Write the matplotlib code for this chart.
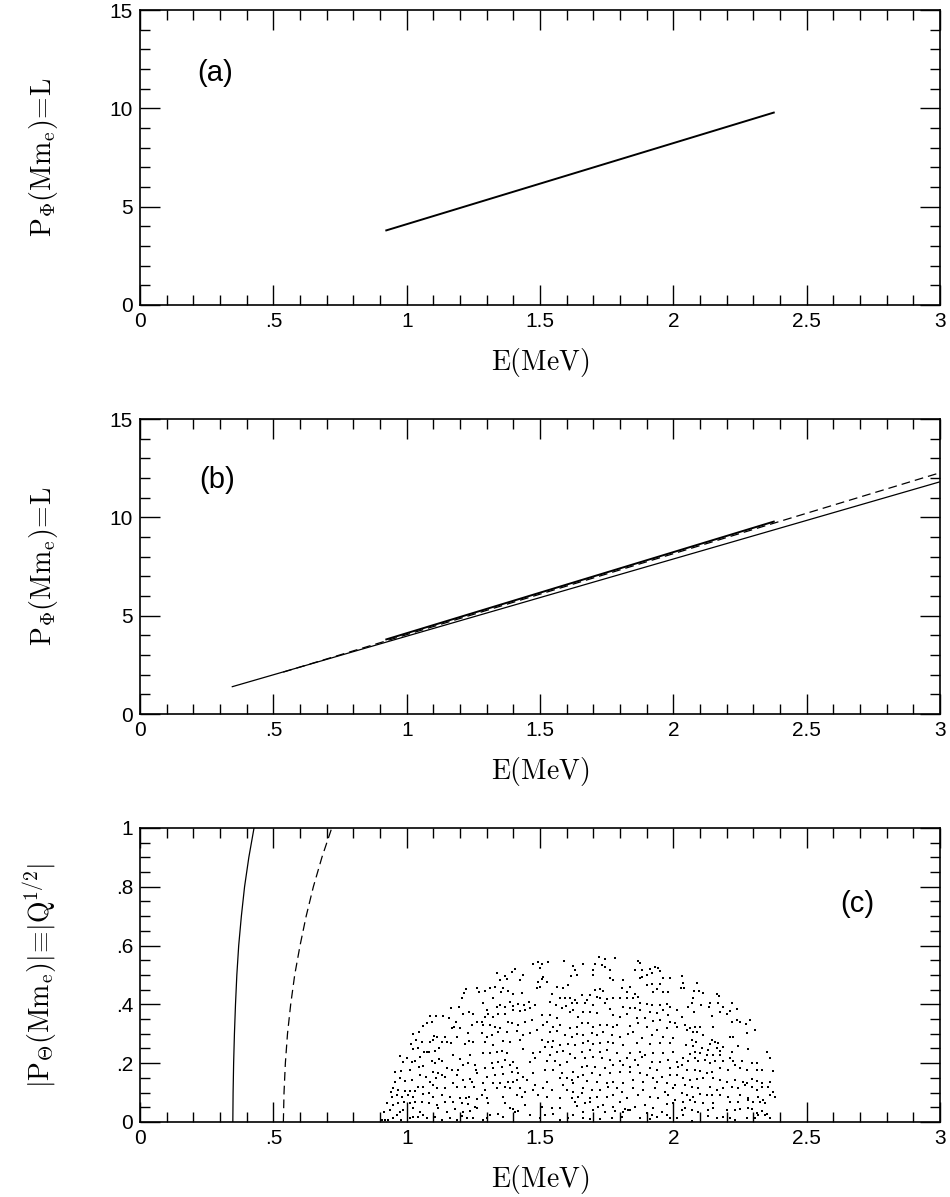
import matplotlib
matplotlib.use("Agg")
import matplotlib.pyplot as plt
from matplotlib.ticker import MultipleLocator, FuncFormatter

plt.rcParams["mathtext.fontset"] = "cm"
plt.rcParams["font.family"] = ["Liberation Sans", "DejaVu Sans"]

# panel (a)/(b): L versus E for the bound orbits
band_E = [0.92, 2.38]
band_L = [3.78, 9.80]
# panel (b): continuation curves
dash_E = [0.537, 3.0]
dash_L = [2.13, 12.27]
solid_E = [0.346, 3.0]
solid_L = [1.39, 11.81]

# panel (c): |Q^1/2| boundary curves
curve_Q = [0.0, 0.1, 0.2, 0.3, 0.4, 0.5, 0.6, 0.7, 0.8, 0.9, 1.0]
curve1_E = [0.348, 0.349, 0.351, 0.354, 0.358, 0.363, 0.370, 0.380, 0.392, 0.408, 0.4275]
curve2_E = [0.5375, 0.540, 0.545, 0.553, 0.565, 0.580, 0.600, 0.623, 0.650, 0.682, 0.719]

# panel (c): scattered orbits (E, |Q^1/2|)
cloud_points = [
    (1.263, 0.457), (1.223, 0.451), (1.216, 0.440), (1.206, 0.421), (1.273, 0.443),
    (1.198, 0.392), (1.165, 0.387), (1.235, 0.373), (1.250, 0.366), (1.213, 0.366),
    (1.138, 0.361), (1.110, 0.361), (1.088, 0.361), (1.160, 0.353), (1.185, 0.341),
    (1.094, 0.341), (1.075, 0.336), (1.060, 0.328), (1.178, 0.324), (1.200, 0.319),
    (1.169, 0.321), (1.244, 0.330), (1.263, 0.341), (1.048, 0.305), (1.025, 0.299),
    (1.103, 0.294), (1.115, 0.290), (1.144, 0.290), (1.188, 0.290), (1.231, 0.302),
    (1.235, 0.275), (1.250, 0.271), (1.035, 0.279), (1.015, 0.264), (1.056, 0.271),
    (1.088, 0.271), (1.100, 0.279), (1.131, 0.271), (1.150, 0.271), (1.165, 0.268),
    (1.219, 0.264), (1.023, 0.248), (1.044, 0.253), (1.065, 0.237), (1.085, 0.237),
    (1.106, 0.241), (1.123, 0.251), (1.238, 0.228), (0.975, 0.224), (1.000, 0.217),
    (1.019, 0.205), (1.031, 0.207), (0.985, 0.205), (1.050, 0.222), (1.075, 0.237),
    (1.094, 0.207), (1.123, 0.214), (1.173, 0.228), (1.200, 0.214), (1.210, 0.194),
    (1.231, 0.200), (1.256, 0.194), (0.956, 0.171), (0.978, 0.173), (1.013, 0.177),
    (1.048, 0.188), (1.063, 0.192), (1.106, 0.200), (1.131, 0.207), (1.100, 0.171),
    (1.119, 0.166), (1.131, 0.160), (1.150, 0.183), (1.169, 0.177), (1.194, 0.177),
    (1.260, 0.177), (1.263, 0.166), (0.975, 0.148), (0.994, 0.139), (1.019, 0.143),
    (1.050, 0.160), (1.073, 0.154), (1.088, 0.137), (1.110, 0.148), (1.144, 0.154),
    (1.188, 0.158), (1.213, 0.143), (1.238, 0.146), (0.956, 0.137), (0.950, 0.117),
    (0.940, 0.103), (0.969, 0.109), (0.994, 0.105), (1.013, 0.105), (1.031, 0.105),
    (1.044, 0.120), (1.063, 0.120), (1.098, 0.126), (1.115, 0.115), (1.144, 0.115),
    (1.173, 0.131), (1.188, 0.120), (1.219, 0.120), (1.244, 0.137), (1.253, 0.120),
    (0.944, 0.086), (0.963, 0.092), (0.981, 0.086), (1.006, 0.092), (1.025, 0.086),
    (1.063, 0.094), (1.085, 0.097), (1.100, 0.086), (1.131, 0.092), (1.163, 0.086),
    (1.200, 0.083), (1.223, 0.083), (1.235, 0.086), (1.265, 0.078), (0.925, 0.063),
    (0.948, 0.058), (0.969, 0.063), (0.990, 0.069), (1.013, 0.063), (1.031, 0.069),
    (1.056, 0.069), (1.085, 0.063), (1.113, 0.058), (1.144, 0.067), (1.175, 0.069),
    (1.206, 0.063), (1.231, 0.060), (1.256, 0.052), (0.915, 0.035), (0.938, 0.041),
    (0.975, 0.035), (0.988, 0.041), (1.023, 0.046), (1.050, 0.035), (1.063, 0.024),
    (1.119, 0.049), (1.150, 0.035), (1.181, 0.044), (1.213, 0.035), (1.238, 0.037),
    (1.263, 0.046), (0.906, 0.007), (0.919, 0.007), (0.931, 0.007), (0.950, 0.012),
    (0.963, 0.024), (0.978, 0.007), (1.013, 0.012), (1.025, 0.018), (1.044, 0.018),
    (1.075, 0.012), (1.106, 0.018), (1.131, 0.007), (1.163, 0.015), (1.188, 0.007),
    (1.206, 0.021), (1.228, 0.012), (1.250, 0.015),
    (1.494, 0.543), (1.506, 0.536), (1.475, 0.536), (1.531, 0.545), (1.590, 0.548),
    (1.500, 0.523), (1.406, 0.520), (1.394, 0.511), (1.340, 0.506), (1.369, 0.498),
    (1.350, 0.483), (1.375, 0.486), (1.425, 0.483), (1.438, 0.500), (1.513, 0.494),
    (1.494, 0.477), (1.506, 0.486), (1.525, 0.475), (1.488, 0.455), (1.500, 0.460),
    (1.563, 0.460), (1.585, 0.457), (1.625, 0.532), (1.631, 0.517), (1.638, 0.500),
    (1.615, 0.498), (1.313, 0.455), (1.331, 0.460), (1.294, 0.446), (1.363, 0.457),
    (1.381, 0.446), (1.353, 0.441), (1.400, 0.434), (1.325, 0.423), (1.431, 0.438),
    (1.606, 0.466), (1.575, 0.423), (1.594, 0.421), (1.613, 0.423), (1.544, 0.434),
    (1.631, 0.415), (1.619, 0.404), (1.638, 0.404), (1.288, 0.404), (1.300, 0.381),
    (1.338, 0.392), (1.350, 0.398), (1.369, 0.392), (1.388, 0.409), (1.398, 0.396),
    (1.419, 0.400), (1.440, 0.398), (1.460, 0.409), (1.481, 0.398), (1.538, 0.409),
    (1.560, 0.398), (1.598, 0.396), (1.581, 0.387), (1.625, 0.381), (1.294, 0.358),
    (1.281, 0.341), (1.306, 0.366), (1.325, 0.358), (1.344, 0.366), (1.369, 0.366),
    (1.400, 0.381), (1.425, 0.378), (1.444, 0.381), (1.463, 0.387), (1.506, 0.364),
    (1.538, 0.364), (1.563, 0.353), (1.613, 0.373), (1.644, 0.358), (1.288, 0.330),
    (1.313, 0.330), (1.331, 0.324), (1.350, 0.319), (1.381, 0.341), (1.394, 0.336),
    (1.419, 0.330), (1.444, 0.341), (1.469, 0.347), (1.525, 0.341), (1.550, 0.324),
    (1.575, 0.330), (1.613, 0.319), (1.638, 0.324), (1.281, 0.302), (1.300, 0.290),
    (1.319, 0.296), (1.344, 0.305), (1.375, 0.307), (1.413, 0.309), (1.438, 0.296),
    (1.463, 0.302), (1.488, 0.313), (1.513, 0.330), (1.538, 0.305), (1.563, 0.309),
    (1.594, 0.296), (1.619, 0.290), (1.638, 0.298), (1.294, 0.273), (1.325, 0.262),
    (1.360, 0.275), (1.388, 0.271), (1.425, 0.279), (1.506, 0.279), (1.531, 0.271),
    (1.550, 0.275), (1.519, 0.256), (1.544, 0.256), (1.575, 0.262), (1.606, 0.264),
    (1.631, 0.262), (1.288, 0.234), (1.313, 0.234), (1.338, 0.239), (1.356, 0.241),
    (1.375, 0.234), (1.438, 0.248), (1.475, 0.234), (1.500, 0.239), (1.538, 0.228),
    (1.563, 0.237), (1.588, 0.241), (1.613, 0.230), (1.319, 0.200), (1.344, 0.205),
    (1.369, 0.211), (1.400, 0.205), (1.463, 0.205), (1.481, 0.219), (1.525, 0.207),
    (1.556, 0.207), (1.575, 0.194), (1.600, 0.205), (1.631, 0.217), (1.294, 0.183),
    (1.325, 0.183), (1.356, 0.188), (1.388, 0.194), (1.413, 0.183), (1.519, 0.177),
    (1.550, 0.177), (1.581, 0.166), (1.625, 0.171), (1.644, 0.154), (1.300, 0.154),
    (1.331, 0.160), (1.363, 0.162), (1.394, 0.171), (1.419, 0.166), (1.438, 0.154),
    (1.475, 0.166), (1.575, 0.151), (1.600, 0.148), (1.619, 0.143), (1.288, 0.131),
    (1.325, 0.131), (1.350, 0.131), (1.381, 0.135), (1.400, 0.137), (1.413, 0.143),
    (1.450, 0.143), (1.481, 0.126), (1.525, 0.137), (1.588, 0.126), (1.625, 0.131),
    (1.294, 0.109), (1.338, 0.115), (1.369, 0.120), (1.388, 0.117), (1.425, 0.115),
    (1.444, 0.103), (1.475, 0.109), (1.513, 0.115), (1.544, 0.109), (1.600, 0.109),
    (1.625, 0.103), (1.281, 0.092), (1.300, 0.080), (1.363, 0.086), (1.413, 0.092),
    (1.431, 0.086), (1.494, 0.092), (1.525, 0.086), (1.575, 0.080), (1.619, 0.080),
    (1.644, 0.086), (1.306, 0.063), (1.369, 0.063), (1.388, 0.046), (1.400, 0.044),
    (1.444, 0.058), (1.506, 0.052), (1.544, 0.049), (1.575, 0.046), (1.631, 0.069),
    (1.638, 0.055), (1.313, 0.024), (1.344, 0.026), (1.363, 0.018), (1.406, 0.035),
    (1.419, 0.037), (1.463, 0.024), (1.500, 0.012), (1.519, 0.024), (1.550, 0.026),
    (1.575, 0.005), (1.606, 0.012), (1.625, 0.024), (1.300, 0.012), (1.288, 0.007),
    (1.723, 0.562), (1.744, 0.554), (1.781, 0.557), (1.660, 0.536), (1.706, 0.536),
    (1.731, 0.534), (1.744, 0.528), (1.763, 0.517), (1.700, 0.517), (1.869, 0.548),
    (1.875, 0.540), (1.856, 0.517), (1.881, 0.517), (1.913, 0.520), (1.931, 0.528),
    (1.944, 0.523), (1.950, 0.514), (1.881, 0.494), (1.900, 0.500), (1.919, 0.506),
    (1.875, 0.489), (1.963, 0.491), (1.988, 0.491), (1.813, 0.483), (1.763, 0.489),
    (1.775, 0.483), (1.700, 0.500), (1.900, 0.466), (1.919, 0.468), (1.950, 0.468),
    (1.838, 0.460), (1.806, 0.455), (1.706, 0.449), (1.725, 0.452), (1.738, 0.446),
    (1.825, 0.443), (1.856, 0.434), (1.869, 0.426), (1.925, 0.443), (1.938, 0.452),
    (1.963, 0.443), (1.981, 0.441), (1.688, 0.432), (1.713, 0.426), (1.656, 0.432),
    (1.675, 0.415), (1.725, 0.423), (1.750, 0.418), (1.775, 0.421), (1.800, 0.423),
    (1.825, 0.423), (1.850, 0.421), (1.875, 0.404), (1.900, 0.400), (1.919, 0.398),
    (1.950, 0.398), (1.975, 0.400), (1.988, 0.392), (1.669, 0.404), (1.700, 0.398),
    (1.744, 0.404), (1.763, 0.384), (1.813, 0.392), (1.838, 0.387), (1.856, 0.387),
    (1.875, 0.381), (1.913, 0.375), (1.938, 0.370), (1.963, 0.381), (1.981, 0.364),
    (2.013, 0.381), (1.663, 0.375), (1.688, 0.375), (1.713, 0.370), (1.775, 0.364),
    (1.800, 0.358), (1.825, 0.366), (1.863, 0.353), (1.894, 0.353), (1.925, 0.343),
    (1.950, 0.347), (1.988, 0.341), (2.006, 0.336), (1.656, 0.336), (1.681, 0.336),
    (1.700, 0.324), (1.725, 0.330), (1.750, 0.330), (1.775, 0.324), (1.788, 0.330),
    (1.838, 0.328), (1.869, 0.336), (1.900, 0.324), (1.938, 0.313), (1.975, 0.321),
    (2.013, 0.324), (1.663, 0.296), (1.694, 0.302), (1.713, 0.296), (1.738, 0.305),
    (1.769, 0.296), (1.800, 0.290), (1.831, 0.298), (1.850, 0.307), (1.881, 0.287),
    (1.919, 0.296), (1.963, 0.290), (2.000, 0.287), (1.663, 0.268), (1.681, 0.275),
    (1.700, 0.264), (1.725, 0.268), (1.756, 0.273), (1.775, 0.268), (1.813, 0.262),
    (1.863, 0.268), (1.913, 0.264), (1.950, 0.268), (1.988, 0.268), (1.656, 0.239),
    (1.688, 0.245), (1.725, 0.239), (1.750, 0.245), (1.788, 0.234), (1.838, 0.234),
    (1.875, 0.239), (1.894, 0.228), (1.925, 0.234), (1.963, 0.234), (2.000, 0.239),
    (1.669, 0.217), (1.700, 0.222), (1.731, 0.217), (1.763, 0.211), (1.800, 0.207),
    (1.825, 0.217), (1.856, 0.211), (1.881, 0.222), (1.919, 0.205), (1.950, 0.205),
    (1.981, 0.211), (2.013, 0.205), (1.656, 0.188), (1.675, 0.192), (1.706, 0.188),
    (1.744, 0.183), (1.775, 0.194), (1.813, 0.194), (1.838, 0.188), (1.869, 0.194),
    (1.913, 0.183), (1.938, 0.177), (1.988, 0.183), (2.019, 0.188), (1.663, 0.160),
    (1.694, 0.166), (1.725, 0.160), (1.763, 0.166), (1.800, 0.171), (1.838, 0.171),
    (1.875, 0.166), (1.900, 0.160), (1.925, 0.148), (1.956, 0.154), (1.988, 0.160),
    (2.013, 0.160), (1.675, 0.139), (1.713, 0.137), (1.750, 0.131), (1.775, 0.137),
    (1.813, 0.131), (1.850, 0.143), (1.888, 0.135), (1.938, 0.137), (1.975, 0.131),
    (2.006, 0.126), (1.663, 0.115), (1.694, 0.109), (1.725, 0.109), (1.756, 0.120),
    (1.788, 0.115), (1.806, 0.103), (1.850, 0.115), (1.888, 0.109), (1.931, 0.115),
    (1.969, 0.103), (2.000, 0.115), (1.656, 0.097), (1.688, 0.080), (1.713, 0.086),
    (1.750, 0.086), (1.775, 0.092), (1.825, 0.080), (1.869, 0.092), (1.913, 0.086),
    (1.944, 0.080), (1.981, 0.092), (2.006, 0.075), (1.669, 0.063), (1.688, 0.069),
    (1.719, 0.052), (1.738, 0.058), (1.775, 0.052), (1.800, 0.069), (1.819, 0.044),
    (1.838, 0.041), (1.856, 0.052), (1.894, 0.058), (1.925, 0.049), (1.975, 0.060),
    (2.000, 0.063), (1.663, 0.035), (1.700, 0.041), (1.744, 0.035), (1.781, 0.037),
    (1.813, 0.035), (1.831, 0.041), (1.900, 0.029), (1.919, 0.024), (1.956, 0.035),
    (1.975, 0.024), (1.988, 0.015), (1.663, 0.012), (1.688, 0.010), (1.725, 0.010),
    (1.769, 0.012), (1.806, 0.018), (1.875, 0.012), (1.913, 0.010), (1.938, 0.018),
    (2.013, 0.015),
    (2.031, 0.498), (2.035, 0.472), (2.040, 0.455), (2.029, 0.455), (2.088, 0.472),
    (2.078, 0.446), (2.098, 0.446), (2.113, 0.438), (2.163, 0.434), (2.173, 0.430),
    (2.073, 0.421), (2.056, 0.392), (2.069, 0.404), (2.103, 0.398), (2.138, 0.404),
    (2.135, 0.392), (2.169, 0.404), (2.188, 0.392), (2.219, 0.404), (2.238, 0.384),
    (2.213, 0.378), (2.200, 0.366), (2.175, 0.375), (2.078, 0.373), (2.144, 0.361),
    (2.031, 0.358), (2.044, 0.330), (2.063, 0.321), (2.081, 0.324), (2.100, 0.324),
    (2.050, 0.313), (2.073, 0.305), (2.088, 0.307), (2.110, 0.296), (2.150, 0.324),
    (2.219, 0.341), (2.238, 0.347), (2.250, 0.341), (2.273, 0.332), (2.288, 0.347),
    (2.306, 0.313), (2.275, 0.302), (2.213, 0.290), (2.225, 0.290), (2.144, 0.279),
    (2.156, 0.271), (2.169, 0.268), (2.138, 0.264), (2.069, 0.279), (2.085, 0.271),
    (2.048, 0.262), (2.075, 0.260), (2.106, 0.253), (2.131, 0.245), (2.163, 0.251),
    (2.175, 0.241), (2.188, 0.256), (2.244, 0.260), (2.281, 0.248), (2.219, 0.239),
    (2.081, 0.239), (2.100, 0.234), (2.063, 0.230), (2.125, 0.228), (2.150, 0.228),
    (2.175, 0.228), (2.038, 0.217), (2.056, 0.207), (2.081, 0.217), (2.094, 0.207),
    (2.119, 0.211), (2.138, 0.200), (2.156, 0.207), (2.188, 0.207), (2.213, 0.217),
    (2.225, 0.207), (2.231, 0.194), (2.256, 0.207), (2.294, 0.200), (2.313, 0.200),
    (2.350, 0.239), (2.363, 0.217), (2.031, 0.194), (2.050, 0.177), (2.081, 0.177),
    (2.100, 0.173), (2.125, 0.166), (2.144, 0.169), (2.175, 0.183), (2.206, 0.177),
    (2.250, 0.183), (2.275, 0.177), (2.313, 0.177), (2.331, 0.177), (2.373, 0.173),
    (2.038, 0.151), (2.063, 0.143), (2.088, 0.146), (2.113, 0.148), (2.150, 0.148),
    (2.175, 0.143), (2.200, 0.137), (2.231, 0.143), (2.263, 0.137), (2.275, 0.131),
    (2.294, 0.146), (2.313, 0.139), (2.331, 0.131), (2.363, 0.137), (2.044, 0.126),
    (2.069, 0.120), (2.094, 0.115), (2.138, 0.120), (2.163, 0.109), (2.188, 0.115),
    (2.219, 0.120), (2.244, 0.115), (2.269, 0.126), (2.294, 0.120), (2.313, 0.109),
    (2.331, 0.120), (2.356, 0.120), (2.375, 0.103), (2.031, 0.097), (2.050, 0.092),
    (2.075, 0.086), (2.100, 0.094), (2.125, 0.092), (2.144, 0.092), (2.175, 0.092),
    (2.206, 0.086), (2.250, 0.092), (2.281, 0.080), (2.319, 0.086), (2.338, 0.075),
    (2.363, 0.092), (2.381, 0.086), (2.038, 0.069), (2.063, 0.075), (2.081, 0.069),
    (2.113, 0.063), (2.150, 0.063), (2.213, 0.069), (2.244, 0.069), (2.281, 0.075),
    (2.300, 0.069), (2.325, 0.069), (2.344, 0.063), (2.031, 0.041), (2.044, 0.046),
    (2.069, 0.041), (2.094, 0.035), (2.131, 0.041), (2.150, 0.046), (2.200, 0.041),
    (2.231, 0.041), (2.250, 0.044), (2.281, 0.046), (2.294, 0.044), (2.313, 0.029),
    (2.331, 0.037), (2.350, 0.026), (2.038, 0.024), (2.069, 0.003), (2.131, 0.021),
    (2.163, 0.012), (2.188, 0.018), (2.213, 0.015), (2.231, 0.007), (2.275, 0.015),
    (2.306, 0.015), (2.319, 0.024), (2.344, 0.024), (2.363, 0.012),
]
cloud_E = [p[0] for p in cloud_points]
cloud_Q = [p[1] for p in cloud_points]

ylabel_phi = r"$\mathrm{P}_{\Phi}(\mathrm{Mm_e})\!=\!\mathrm{L}$"
ylabel_theta = r"$|\mathrm{P}_{\Theta}(\mathrm{Mm_e})|\!\equiv\!|\mathrm{Q}^{1/2}|$"
xlabel = r"$\mathrm{E(MeV)}$"


def strip_zero(value, pos):
    text = f"{value:g}"
    if text.startswith("0."):
        text = text[1:]
    return text


def style_axis(axis, ymax, ymajor, yminor, ylabel):
    axis.set_xlim(0, 3)
    axis.set_ylim(0, ymax)
    axis.xaxis.set_major_locator(MultipleLocator(0.5))
    axis.xaxis.set_minor_locator(MultipleLocator(0.1))
    axis.yaxis.set_major_locator(MultipleLocator(ymajor))
    axis.yaxis.set_minor_locator(MultipleLocator(yminor))
    axis.xaxis.set_major_formatter(FuncFormatter(strip_zero))
    axis.yaxis.set_major_formatter(FuncFormatter(strip_zero))
    axis.tick_params(which="both", direction="in", top=True, right=True,
                     width=1.0, labelsize=15, pad=5)
    axis.tick_params(which="major", length=14.5)
    axis.tick_params(which="minor", length=7.2)
    for spine in axis.spines.values():
        spine.set_linewidth(1.2)
    axis.set_xlabel(xlabel, fontsize=20)
    axis.xaxis.set_label_coords(0.5, -0.14)
    axis.set_ylabel(ylabel, fontsize=20)
    axis.yaxis.set_label_coords(-0.1, 0.5)


figure = plt.figure(figsize=(9.5, 11.97), dpi=100)
left, width = 0.1474, 0.8421
ax_a = figure.add_axes([left, 0.7452, width, 0.2464])
ax_b = figure.add_axes([left, 0.4035, width, 0.2464])
ax_c = figure.add_axes([left, 0.0627, width, 0.2456])

# (a)
ax_a.plot(band_E, band_L, color="black", lw=1.4, solid_capstyle="butt")
style_axis(ax_a, 15, 5, 1, ylabel_phi)
ax_a.text(0.28, 11.8, "(a)", fontsize=21, ha="center", va="center")

# (b)
ax_b.plot(solid_E, solid_L, color="black", lw=0.9)
ax_b.plot(dash_E, dash_L, color="black", lw=0.9, dashes=(7, 4))
ax_b.plot(band_E, band_L, color="black", lw=1.4, solid_capstyle="butt")
style_axis(ax_b, 15, 5, 1, ylabel_phi)
ax_b.text(0.29, 11.9, "(b)", fontsize=21, ha="center", va="center")

# (c)
ax_c.plot(curve1_E, curve_Q, color="black", lw=0.9)
ax_c.plot(curve2_E, curve_Q, color="black", lw=0.9, dashes=(7, 4))
ax_c.scatter(cloud_E, cloud_Q, s=4, marker="s", color="black", linewidths=0)
style_axis(ax_c, 1, 0.2, 0.05, ylabel_theta)
ax_c.text(2.69, 0.74, "(c)", fontsize=21, ha="center", va="center")

figure.savefig("out.png", dpi=100)
plt.close(figure)
